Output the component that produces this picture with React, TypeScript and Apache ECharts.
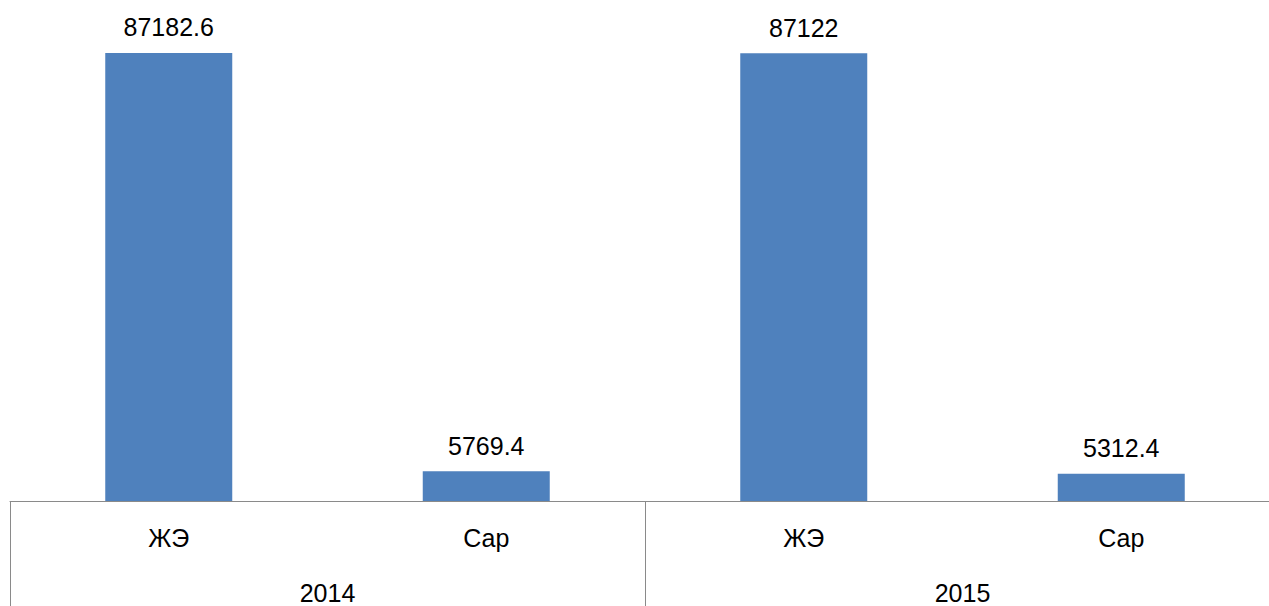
import React, { useEffect, useRef } from "react";
import * as echarts from "echarts";

const categories = ["ЖЭ", "Сар", "ЖЭ", "Сар"];
const years = ["2014", "2015"];
const values = [87182.6, 5769.4, 87122, 5312.4];

export default function App() {
  const ref = useRef<HTMLDivElement>(null);
  useEffect(() => {
    if (!ref.current) return;
    const chart = echarts.init(ref.current, undefined, { renderer: "svg" });
    const font = "'Liberation Sans', Arial, sans-serif";
    chart.setOption({
      animation: false,
      grid: { left: 10, width: 1270, top: 38.5, bottom: 105 },
      xAxis: [
        {
          type: "category",
          data: categories,
          position: "bottom",
          axisLine: { show: true, lineStyle: { color: "#8a8a8a", width: 1 } },
          axisTick: { show: false },
          axisLabel: { color: "#000", fontSize: 25, fontFamily: font, margin: 24, interval: 0 },
        },
        {
          type: "category",
          data: years,
          position: "bottom",
          axisLine: { show: false },
          axisTick: { show: true, length: 110, lineStyle: { color: "#8a8a8a", width: 1 } },
          axisLabel: { color: "#000", fontSize: 25, fontFamily: font, margin: 79, interval: 0 },
        },
      ],
      yAxis: { type: "value", min: 0, max: 90000, show: false, splitLine: { show: false } },
      series: [
        {
          type: "bar",
          xAxisIndex: 0,
          data: values,
          barWidth: "40%",
          itemStyle: { color: "#4F81BD" },
          label: {
            show: true,
            position: "top",
            distance: 13,
            color: "#000",
            fontSize: 25,
            fontFamily: font,
          },
        },
      ],
    });
    return () => chart.dispose();
  }, []);
  return (
    <div
      style={{ position: "fixed", left: 0, top: 0, width: 1269, height: 606, overflow: "hidden", background: "#fff" }}
    >
      <div ref={ref} style={{ width: 1300, height: 606 }} />
    </div>
  );
}
